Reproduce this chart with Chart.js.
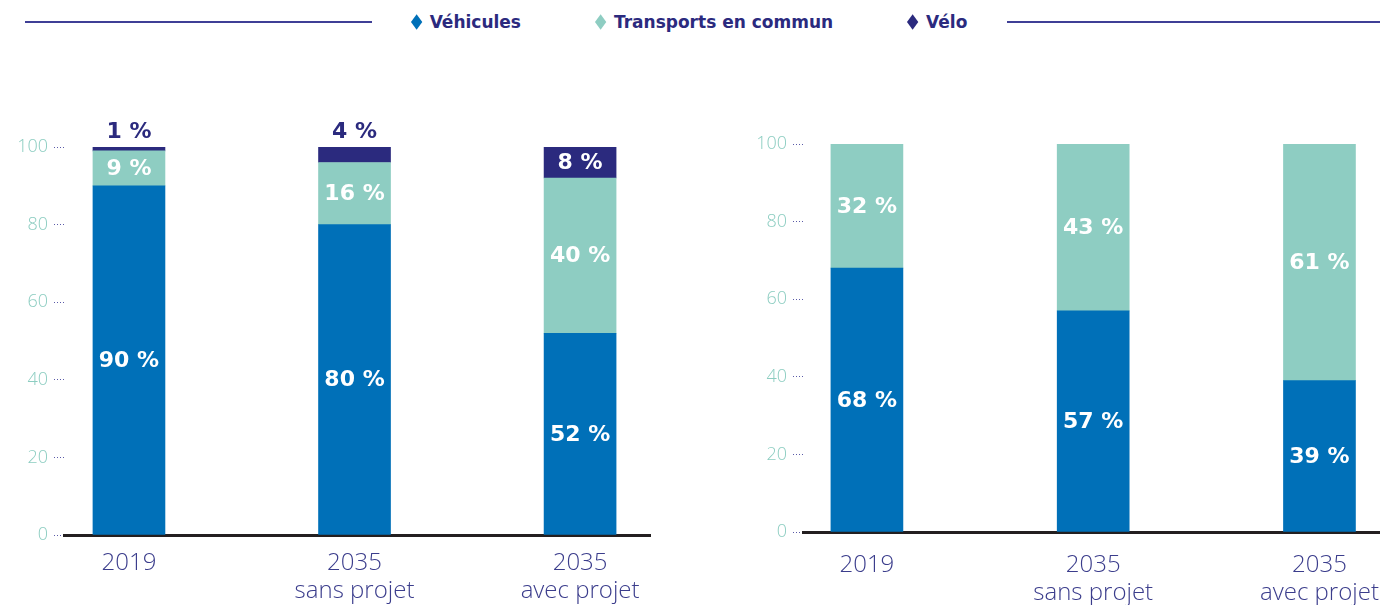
<!DOCTYPE html>
<html lang="fr">
<head>
<meta charset="utf-8">
<script src="https://cdn.jsdelivr.net/npm/chart.js@4.4.1/dist/chart.umd.min.js"></script>
<style>
  html, body { margin: 0; padding: 0; background: #fff; overflow: hidden; }
  body { width: 1380px; height: 605px; position: relative; }
  .legend-line { position: absolute; top: 21px; height: 2px; background: #3f3f96; }
  .legend { position: absolute; top: 12px; left: 690px; transform: translateX(-50%);
            display: flex; gap: 76px; white-space: nowrap;
            font: bold 17px 'DejaVu Sans', sans-serif; color: #2b2a7e; }
  .legend .mk { display: inline-block; width: 8px; height: 8px; margin-right: 9px;
                transform: scaleY(1.35) rotate(45deg); vertical-align: 2px; }
  canvas { position: absolute; top: 0; }
</style>
</head>
<body>
<div class="legend-line" style="left:25px;width:347px"></div>
<div class="legend-line" style="left:1007px;right:0"></div>
<div class="legend" id="legend"></div>
<canvas id="chartLeft" width="700" height="605" style="left:0"></canvas>
<canvas id="chartRight" width="700" height="605" style="left:700px"></canvas>
<script>
const CATEGORIES = [['2019'], ['2035', 'sans projet'], ['2035', 'avec projet']];
const SERIES = ['Véhicules', 'Transports en commun', 'Vélo'];
const COLORS = ['#0070b8', '#8ecdc2', '#2b2a7e'];

// graphique de gauche (%)
const VEHICULES_1 = [90, 80, 52];
const TC_1        = [9, 16, 40];
const VELO_1      = [1, 4, 8];

// graphique de droite (%)
const VEHICULES_2 = [68, 57, 39];
const TC_2        = [32, 43, 61];

// légende
document.getElementById('legend').innerHTML = SERIES.map((s, k) =>
  `<span><i class="mk" style="background:${COLORS[k]}"></i>${s}</span>`).join('');

// étiquettes de valeurs sur les barres
const barLabels = {
  id: 'barLabels',
  afterDatasetsDraw(chart) {
    const ctx = chart.ctx;
    ctx.save();
    ctx.font = 'bold 22px "DejaVu Sans", sans-serif';
    ctx.textAlign = 'center';
    ctx.textBaseline = 'middle';
    chart.data.datasets.forEach((ds, di) => {
      chart.getDatasetMeta(di).data.forEach((bar, i) => {
        const v = ds.data[i].y;
        const h = bar.base - bar.y;
        if (h >= 22) {
          ctx.fillStyle = '#fff';
          ctx.fillText(`${v} %`, bar.x, (bar.y + bar.base) / 2 + 1);
        } else {
          ctx.fillStyle = COLORS[2];
          ctx.fillText(`${v} %`, bar.x, bar.y - 15);
        }
      });
    });
    ctx.restore();
  }
};

function makeChart(id, series, o) {
  return new Chart(document.getElementById(id), {
    type: 'bar',
    data: {
      datasets: series.map((vals, k) => ({
        label: SERIES[k],
        data: vals.map((v, i) => ({ x: i, y: v })),
        backgroundColor: COLORS[k],
        borderWidth: 0,
        barThickness: 72
      }))
    },
    options: {
      responsive: false,
      animation: false,
      devicePixelRatio: 1,
      layout: { padding: { top: o.top, right: o.right, left: 0, bottom: 0 } },
      plugins: { legend: { display: false }, tooltip: { enabled: false } },
      scales: {
        x: {
          type: 'linear', stacked: true, min: o.xmin, max: o.xmax, offset: false,
          afterBuildTicks: s => { s.ticks = CATEGORIES.map((_, i) => ({ value: i })); },
          afterFit: s => { s.height = o.xh; },
          grid: { display: false, drawTicks: false, offset: false },
          border: { display: true, color: '#231f20', width: 3 },
          ticks: {
            callback: v => CATEGORIES[v],
            autoSkip: false, maxRotation: 0, padding: o.xpad,
            color: '#3b3d8c',
            font: { family: '"Open Sans"', size: 24, weight: 300, lineHeight: 1.17 }
          }
        },
        y: {
          stacked: true, min: 0, max: 100,
          afterFit: s => { s.width = o.yw; },
          grid: { drawOnChartArea: false, drawTicks: true, tickLength: 10,
                  tickColor: '#5a5aa8', tickBorderDash: [1, 2], tickWidth: 1 },
          border: { display: false },
          ticks: { stepSize: 20, padding: 6, color: '#8ccdc1',
                   font: { family: '"Open Sans"', size: 18, weight: 300 } }
        }
      }
    },
    plugins: [barLabels]
  });
}

makeChart('chartLeft', [VEHICULES_1, TC_1, VELO_1],
  { top: 147, right: 50, yw: 64, xh: 70, xpad: 14, xmin: -0.288, xmax: 2.31 });
makeChart('chartRight', [VEHICULES_2, TC_2],
  { top: 144, right: 20, yw: 103, xh: 73, xpad: 19, xmin: -0.2825, xmax: 2.265 });
</script>
</body>
</html>
